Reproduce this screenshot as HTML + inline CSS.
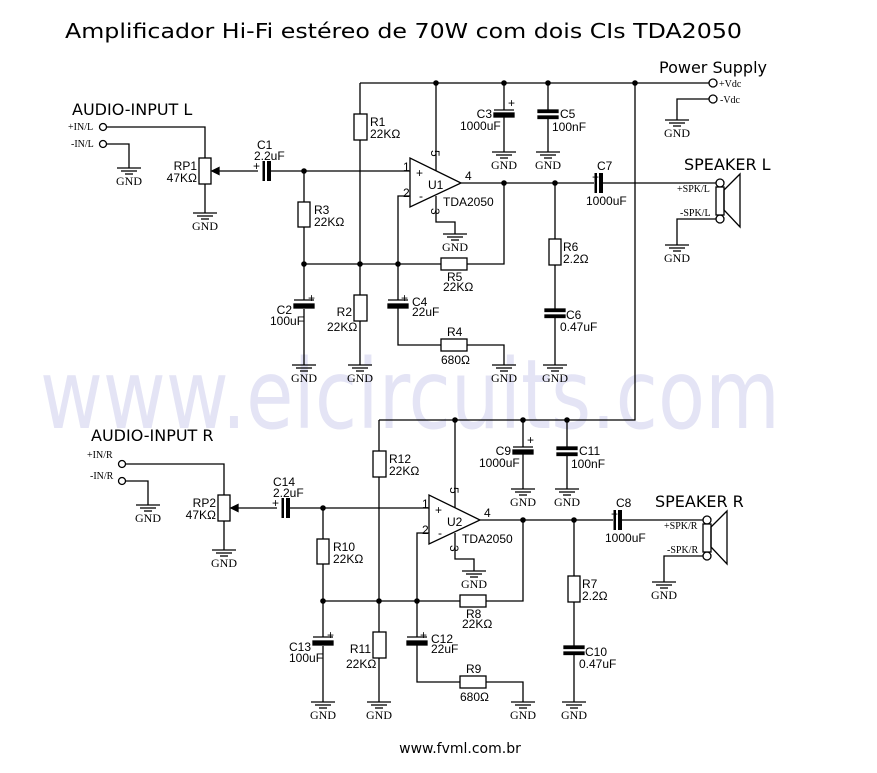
<!DOCTYPE html>
<html><head><meta charset="utf-8"><style>
html,body{margin:0;padding:0;background:#fff}
svg{display:block}
.s{font-family:"Liberation Sans",sans-serif;font-size:12px;fill:#000}
.sf{font-family:"Liberation Serif",serif;font-size:10px;fill:#000}
.big{font-family:"DejaVu Sans","Liberation Sans",sans-serif;font-size:16px;fill:#000}
</style></head><body>
<svg width="877" height="773" viewBox="0 0 877 773" xmlns="http://www.w3.org/2000/svg">
<defs>
<g id="gnd" stroke="#000" stroke-width="1.3" fill="none">
<line x1="-12" y1="0" x2="12" y2="0"/><line x1="-8" y1="3" x2="8" y2="3"/><line x1="-4" y1="6" x2="4" y2="6"/>
<text x="0" y="17" text-anchor="middle" stroke="none" fill="#000" style="font-family:'Liberation Serif',serif;font-size:12px">GND</text>
</g>
<g id="ckt" stroke="#000" stroke-width="1.3" fill="none">
<path d="M436 83V171M360 83V114M360 140V365M504 83V110M504 117V152M548 83V110M548 118V152"/>
<rect x="354" y="114" width="13" height="26" fill="#fff"/>
<rect x="354" y="295" width="13" height="26" fill="#fff"/>
<line x1="494" y1="110" x2="514" y2="110"/><rect x="494" y="113" width="20" height="4" fill="#000"/>
<rect x="538" y="110" width="20" height="2.5" fill="#000"/><rect x="538" y="116" width="20" height="2.5" fill="#000"/>
<circle cx="103" cy="127" r="3.5"/><circle cx="103" cy="144" r="3.5"/>
<path d="M107 127H205V158M205 184V213M107 144H129V168"/>
<rect x="199" y="158" width="12" height="26" fill="#fff"/>
<path d="M258 171H213"/><polygon points="212,171 219,167.5 219,174.5" fill="#000"/>
<rect x="262.5" y="161" width="2.5" height="20" fill="#000" stroke="none"/><rect x="267" y="161" width="4" height="20" fill="#000" stroke="none"/>
<path d="M271 171H410M304 171V202M304 227V300M304 309V365M304 264H441M467 264H504V183"/>
<rect x="298" y="202" width="12" height="25" fill="#fff"/>
<line x1="294" y1="300" x2="314" y2="300"/><rect x="294" y="304" width="20" height="4" fill="#000"/>
<polygon points="410,158 410,207 461,183" fill="#fff"/>
<path d="M410 196H398V300M398 308V345H441M467 345H504V365M436 196V222H455V234"/>
<line x1="388" y1="300" x2="408" y2="300"/><rect x="388" y="304" width="20" height="4" fill="#000"/>
<rect x="441" y="258" width="26" height="12" fill="#fff"/>
<rect x="441" y="339" width="26" height="12" fill="#fff"/>
<path d="M461 183H594M555 183V239M555 265V310M555 318V365"/>
<rect x="594.5" y="173" width="2.5" height="20" fill="#000" stroke="none"/><rect x="599" y="173" width="4" height="20" fill="#000" stroke="none"/>
<rect x="549" y="239" width="12" height="26" fill="#fff"/>
<rect x="545" y="309" width="20" height="2.5" fill="#000"/><rect x="545" y="315" width="20" height="2.5" fill="#000"/>
<g fill="#000" stroke="none">
<circle cx="304" cy="171" r="2.8"/><circle cx="304" cy="264" r="2.8"/><circle cx="360" cy="264" r="2.8"/><circle cx="398" cy="264" r="2.8"/>
<circle cx="436" cy="83" r="2.8"/><circle cx="504" cy="83" r="2.8"/><circle cx="548" cy="83" r="2.8"/><circle cx="504" cy="183" r="2.8"/><circle cx="555" cy="183" r="2.8"/>
</g>
<use href="#gnd" x="129" y="168"/><use href="#gnd" x="205" y="213"/><use href="#gnd" x="304" y="365"/><use href="#gnd" x="360" y="365"/>
<use href="#gnd" x="504" y="365"/><use href="#gnd" x="555" y="365"/><use href="#gnd" x="455" y="234"/><use href="#gnd" x="504" y="152"/><use href="#gnd" x="548" y="152"/>
</g>
<g id="spk" stroke="#000" stroke-width="1.3" fill="none">
<circle cx="720" cy="183" r="4"/><circle cx="720" cy="219" r="4"/>
<rect x="716" y="187" width="8" height="28" fill="#fff"/>
<polygon points="724,190 740,174 740,227 724,210"/>
<path d="M716 219H677V245"/>
<use href="#gnd" x="677" y="245"/>
</g>
</defs>

<text x="40" y="428" textLength="740" lengthAdjust="spacingAndGlyphs" style="font-family:'DejaVu Sans',sans-serif;font-size:96px;fill:#e4e4f5">www.elcircuits.com</text>

<text x="65" y="38" textLength="677" lengthAdjust="spacingAndGlyphs" style="font-family:'DejaVu Sans',sans-serif;font-size:20px;fill:#000">Amplificador Hi-Fi estéreo de 70W com dois CIs TDA2050</text>
<text x="460" y="753" text-anchor="middle" style="font-family:'DejaVu Sans',sans-serif;font-size:14px;fill:#000">www.fvml.com.br</text>

<g stroke="#000" stroke-width="1.3" fill="none">
<path d="M360 83H709M635 83V420H379M379 420H635M603 183H716M622 520H703M709 99H677V120"/>
<circle cx="713" cy="83" r="4"/><circle cx="713" cy="99" r="4"/>
<circle cx="635" cy="83" r="2.8" fill="#000" stroke="none"/>
<use href="#gnd" x="677" y="120"/>
</g>
<use href="#ckt"/>
<use href="#ckt" x="19" y="337"/>
<use href="#spk"/>
<use href="#spk" x="-13" y="337"/>

<text class="big" x="659" y="73">Power Supply</text>
<text class="sf" x="719" y="87">+Vdc</text><text class="sf" x="720" y="103">-Vdc</text>
<text class="big" x="684" y="170">SPEAKER L</text>
<text class="big" x="655" y="507">SPEAKER R</text>

<g id="labU">
<text class="big" x="72" y="115">AUDIO-INPUT L</text>
<text class="sf" x="68" y="130">+IN/L</text><text class="sf" x="71" y="147">-IN/L</text>
<text class="s" x="197" y="170" text-anchor="end">RP1</text><text class="s" x="197" y="182" text-anchor="end">47KΩ</text>
<text class="s" x="257" y="149">C1</text><text class="s" x="254" y="160">2.2uF</text><text class="s" x="253" y="170">+</text>
<text class="s" x="370" y="126">R1</text><text class="s" x="370" y="138">22KΩ</text>
<text class="s" x="314" y="214">R3</text><text class="s" x="314" y="226">22KΩ</text>
<text class="s" x="292" y="314" text-anchor="end">C2</text><text class="s" x="270" y="325">100uF</text><text class="s" x="308" y="302">+</text>
<text class="s" x="352" y="316" text-anchor="end">R2</text><text class="s" x="327" y="331">22KΩ</text>
<text class="s" x="412" y="306">C4</text><text class="s" x="412" y="316">22uF</text><text class="s" x="401" y="302">+</text>
<text class="s" x="447" y="281">R5</text><text class="s" x="443" y="291">22KΩ</text>
<text class="s" x="447" y="336">R4</text><text class="s" x="441" y="364">680Ω</text>
<text class="s" x="428" y="189">U1</text><text class="s" x="403" y="171">1</text><text class="s" x="403" y="197">2</text>
<text class="s" x="416" y="177">+</text><text class="s" x="419" y="200">-</text><text class="s" x="465" y="180">4</text>
<text class="s" x="443" y="206">TDA2050</text>
<text class="s" transform="translate(431,150) rotate(90)">5</text>
<text class="s" transform="translate(431,208) rotate(90)">3</text>
<text class="s" x="492" y="118" text-anchor="end">C3</text><text class="s" x="460" y="130">1000uF</text><text class="s" x="508" y="107">+</text>
<text class="s" x="560" y="118">C5</text><text class="s" x="552" y="131">100nF</text>
<text class="s" x="597" y="170">C7</text><text class="s" x="586" y="205">1000uF</text><text class="s" x="592" y="181">+</text>
<text class="s" x="563" y="251">R6</text><text class="s" x="563" y="263">2.2Ω</text>
<text class="s" x="566" y="319">C6</text><text class="s" x="560" y="331">0.47uF</text>
<text class="sf" x="677" y="192">+SPK/L</text><text class="sf" x="680" y="216">-SPK/L</text>
</g>

<g transform="translate(19,337)">
<text class="big" x="72" y="104">AUDIO-INPUT R</text>
<text class="sf" x="68" y="121">+IN/R</text><text class="sf" x="71" y="142">-IN/R</text>
<text class="s" x="197" y="170" text-anchor="end">RP2</text><text class="s" x="197" y="182" text-anchor="end">47KΩ</text>
<text class="s" x="254" y="149">C14</text><text class="s" x="254" y="160">2.2uF</text><text class="s" x="253" y="170">+</text>
<text class="s" x="370" y="126">R12</text><text class="s" x="370" y="138">22KΩ</text>
<text class="s" x="314" y="214">R10</text><text class="s" x="314" y="226">22KΩ</text>
<text class="s" x="292" y="314" text-anchor="end">C13</text><text class="s" x="270" y="325">100uF</text><text class="s" x="308" y="302">+</text>
<text class="s" x="352" y="316" text-anchor="end">R11</text><text class="s" x="327" y="331">22KΩ</text>
<text class="s" x="412" y="306">C12</text><text class="s" x="412" y="316">22uF</text><text class="s" x="401" y="302">+</text>
<text class="s" x="447" y="281">R8</text><text class="s" x="443" y="291">22KΩ</text>
<text class="s" x="447" y="336">R9</text><text class="s" x="441" y="364">680Ω</text>
<text class="s" x="428" y="189">U2</text><text class="s" x="403" y="171">1</text><text class="s" x="403" y="197">2</text>
<text class="s" x="416" y="177">+</text><text class="s" x="419" y="200">-</text><text class="s" x="465" y="180">4</text>
<text class="s" x="443" y="206">TDA2050</text>
<text class="s" transform="translate(431,150) rotate(90)">5</text>
<text class="s" transform="translate(431,208) rotate(90)">3</text>
<text class="s" x="492" y="118" text-anchor="end">C9</text><text class="s" x="460" y="130">1000uF</text><text class="s" x="508" y="107">+</text>
<text class="s" x="560" y="118">C11</text><text class="s" x="552" y="131">100nF</text>
<text class="s" x="597" y="170">C8</text><text class="s" x="586" y="205">1000uF</text><text class="s" x="592" y="181">+</text>
<text class="s" x="563" y="251">R7</text><text class="s" x="563" y="263">2.2Ω</text>
<text class="s" x="566" y="319">C10</text><text class="s" x="560" y="331">0.47uF</text>
</g>
<g transform="translate(-13,337)">
<text class="sf" x="677" y="192">+SPK/R</text><text class="sf" x="680" y="216">-SPK/R</text>
</g>
</svg>
</body></html>
